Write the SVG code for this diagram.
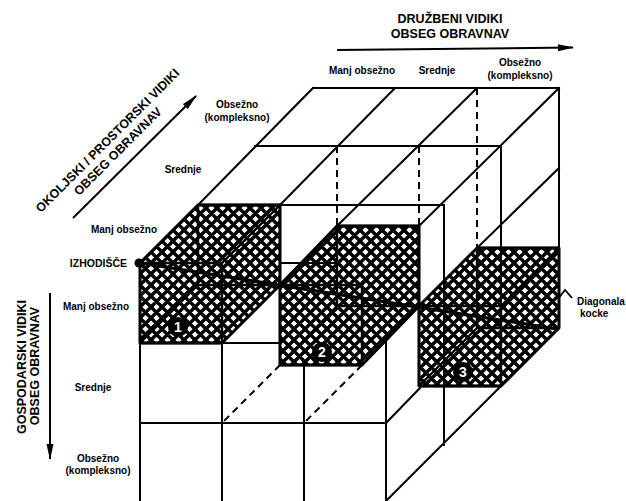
<svg xmlns="http://www.w3.org/2000/svg" width="626" height="501" viewBox="0 0 626 501">
<defs>
<pattern id="hatch" width="11" height="11" patternUnits="userSpaceOnUse" x="140" y="263">
<rect width="11" height="11" fill="#fff"/>
<path d="M0,0L11,11M11,0L0,11M10,-1L12,1M-1,10L1,12M-1,1L1,-1M10,12L12,10" stroke="#000" stroke-width="3.4"/>
</pattern>
<marker id="ah" markerWidth="16" markerHeight="8" refX="15" refY="4" orient="auto" markerUnits="userSpaceOnUse">
<path d="M0,0.5L16,4L0,7.5z" fill="#000"/>
</marker>
<style>
.g{stroke:#000;stroke-width:2;fill:none;stroke-linecap:square}
.d{stroke:#000;stroke-width:2;fill:none;stroke-dasharray:7 5}
.c{stroke:#000;stroke-width:2.4;fill:none;stroke-linejoin:round}
.h{fill:url(#hatch);stroke:#000;stroke-width:2.8;stroke-linejoin:round}
.ax{stroke:#000;stroke-width:2;fill:none}
.t{font-family:"Liberation Sans",Arial,sans-serif;font-weight:bold;font-size:10px;fill:#000;text-anchor:middle}
.T{font-family:"Liberation Sans",Arial,sans-serif;font-weight:bold;font-size:12.5px;fill:#000;text-anchor:middle}
.n{font-family:"Liberation Sans",Arial,sans-serif;font-weight:bold;font-size:14px;fill:#fff;text-anchor:middle}
</style>
</defs>
<rect width="626" height="501" fill="#fff"/>

<g id="connectors">
<!-- top face -->
<path class="g" d="M313,88H559M255,146H501M198,205H444M313,88L198,205M395,88L280,205M477,88L337,226M559,88L419,226M559,168L477,248"/>
<!-- right face -->
<path class="g" d="M559,88V248M501,146V306M444,205V445M386,341V501M501,386L386,501M386,423L420,388"/>
<!-- front face -->
<path class="g" d="M140,263V501M222,343V501M304,365V501M140,343H280M140,423H386"/>
<!-- hidden / construction lines -->
<path class="d" d="M337,146V226M419,146V226M477,88V248M280,365L222,423M362,365L304,423"/>
</g>

<g id="cube1">
<polygon class="h" points="140,263 198,205 280,205 280,285 222,343 140,343"/>
<path class="c" d="M140,263H222V343H140ZM198,205H280V285H198ZM140,263L198,205M222,263L280,205M222,343L280,285M140,343L198,285"/>
</g>
<g id="cube2">
<polygon class="h" points="280,285 337,226 419,226 419,306 362,365 280,365"/>
<path class="c" d="M280,285H362V365H280ZM337,226H419V306H337ZM280,285L337,226M362,285L419,226M362,365L419,306M280,365L337,306"/>
</g>
<g id="cube3">
<polygon class="h" points="419,306 477,248 559,248 559,328 501,386 419,386"/>
<path class="c" d="M419,306H501V386H419ZM477,248H559V328H477ZM419,306L477,248M501,306L559,248M501,386L559,328M419,386L477,328"/>
</g>

<g id="through-lines">
<path class="g" d="M444,248V386M501,248V306M282,263H337"/>
</g>

<g id="diagonal">
<line x1="140" y1="263" x2="557" y2="329" stroke="#000" stroke-width="3.2"/>
<circle cx="139" cy="263" r="4.5" fill="#000"/>
<polyline points="558,299 565,290 572,298" fill="none" stroke="#000" stroke-width="1.8"/>
</g>

<g id="markers">
<circle cx="178" cy="327" r="10" fill="#000"/>
<text class="n" x="178" y="332">1</text>
<circle cx="322" cy="352" r="10" fill="#000"/>
<text class="n" x="322" y="357">2</text>
<circle cx="463" cy="372" r="10" fill="#000"/>
<text class="n" x="463" y="377">3</text>
</g>

<g id="axis-social">
<text class="T" x="450" y="22.5">DRUŽBENI VIDIKI</text>
<text class="T" x="450" y="37.5">OBSEG OBRAVNAV</text>
<line class="ax" x1="337" y1="50" x2="573" y2="47.5" marker-end="url(#ah)"/>
<text class="t" x="362" y="74">Manj obsežno</text>
<text class="t" x="437" y="74">Srednje</text>
<text class="t" x="520" y="65.5">Obsežno</text>
<text class="t" x="520" y="79">(kompleksno)</text>
</g>

<g id="axis-env">
<text class="T" transform="translate(110.5,143.5) rotate(-45)">OKOLJSKI / PROSTORSKI VIDIKI</text>
<text class="T" transform="translate(120.8,154.3) rotate(-45)">OBSEG OBRAVNAV</text>
<line class="ax" x1="73" y1="218" x2="196" y2="96" marker-end="url(#ah)"/>
<text class="t" x="237" y="107.5">Obsežno</text>
<text class="t" x="237" y="121">(kompleksno)</text>
<text class="t" x="183" y="172.5">Srednje</text>
<text class="t" x="124" y="232.5">Manj obsežno</text>
</g>

<g id="axis-econ">
<text class="T" transform="translate(25.5,367) rotate(-90)">GOSPODARSKI VIDIKI</text>
<text class="T" transform="translate(38.5,366) rotate(-90)">OBSEG OBRAVNAV</text>
<line class="ax" x1="50" y1="293" x2="50" y2="459" marker-end="url(#ah)"/>
<text class="t" x="96" y="309.5">Manj obsežno</text>
<text class="t" x="93" y="390.5">Srednje</text>
<text class="t" x="98" y="461.5">Obsežno</text>
<text class="t" x="98" y="474">(kompleksno)</text>
</g>

<g id="labels">
<text class="t" x="127" y="267" style="text-anchor:end;font-size:10.5px">IZHODIŠČE</text>
<text class="t" x="577" y="305" style="text-anchor:start">Diagonala</text>
<text class="t" x="580" y="316.5" style="text-anchor:start">kocke</text>
</g>
</svg>
